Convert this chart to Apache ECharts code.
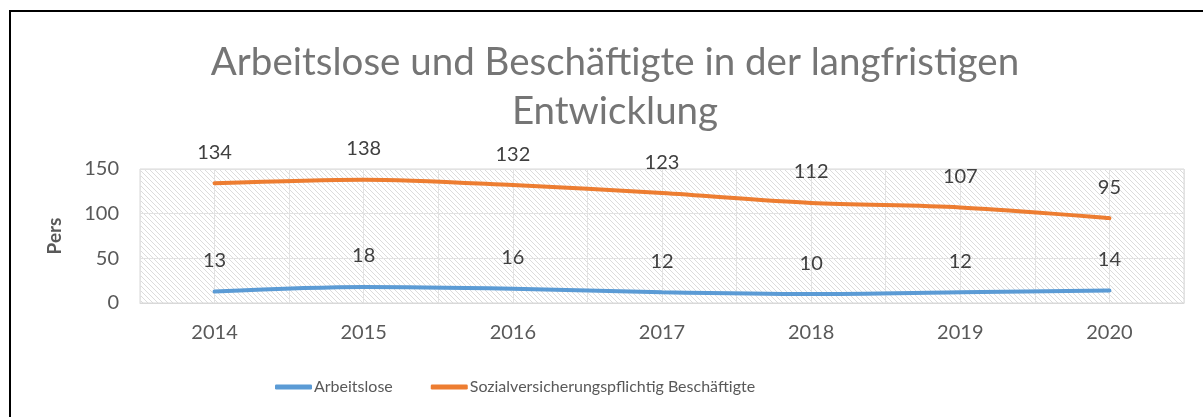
<!DOCTYPE html>
<html>
<head>
<meta charset="utf-8">
<script src="https://cdn.jsdelivr.net/npm/echarts@6/dist/echarts.min.js"></script>
<style>
  html, body { margin: 0; padding: 0; background: #fff; }
  #chart { width: 1203px; height: 417px; }
</style>
</head>
<body>
<div id="chart"></div>
<script>
  // Jahre und Werte
  const jahre = ["2014", "2015", "2016", "2017", "2018", "2019", "2020"];
  const arbeitslose = [13, 18, 16, 12, 10, 12, 14];
  const beschaeftigte = [134, 138, 132, 123, 112, 107, 95];
  const yTicks = [0, 50, 100, 150];

  const FONT = "Lato";
  const BLAU = "#5b9bd5";
  const ORANGE = "#ed7d31";

  // Schraffur fuer den Plotbereich
  function schraffur() {
    const c = document.createElement("canvas");
    c.width = 5;
    c.height = 5;
    const ctx = c.getContext("2d");
    ctx.fillStyle = "#ffffff";
    ctx.fillRect(0, 0, 5, 5);
    ctx.strokeStyle = "#dcdcdc";
    ctx.lineWidth = 1;
    ctx.beginPath();
    ctx.moveTo(-1, -1); ctx.lineTo(6, 6);
    ctx.moveTo(-1, 4); ctx.lineTo(1, 6);
    ctx.moveTo(4, -1); ctx.lineTo(6, 1);
    ctx.stroke();
    return c;
  }

  const myChart = echarts.init(document.getElementById("chart"));

  const options = {
    animation: false,
    textStyle: { fontFamily: FONT },
    graphic: [
      {
        type: "rect",
        shape: { x: 10, y: 11, width: 1400, height: 600 },
        style: { fill: "none", stroke: "#000", lineWidth: 2 },
        silent: true,
        z: -10,
      },
    ],
    title: {
      text: "Arbeitslose und Beschäftigte in der langfristigen\nEntwicklung",
      left: 610,
      top: 33,
      textAlign: "center",
      textStyle: {
        fontFamily: FONT,
        fontSize: 38.5,
        fontWeight: "normal",
        color: "#757575",
        lineHeight: 49,
      },
    },
    legend: {
      left: 270,
      top: 374,
      itemWidth: 37,
      itemHeight: 5,
      itemGap: 38,
      icon: "roundRect",
      textStyle: { fontSize: 16, color: "#595959", fontFamily: FONT, padding: [0, 0, 0, -3] },
      data: ["Arbeitslose", "Sozialversicherungspflichtig Beschäftigte"],
    },
    grid: {
      left: 140,
      right: 19,
      top: 169,
      bottom: 114,
      show: true,
      borderColor: "#d9d9d9",
      borderWidth: 1,
      backgroundColor: { image: schraffur(), repeat: "repeat" },
    },
    xAxis: [
      {
        type: "category",
        data: jahre,
        boundaryGap: true,
        axisLine: { lineStyle: { color: "#d9d9d9" } },
        axisTick: { show: false },
        splitLine: { show: false },
        axisLabel: { fontSize: 20, color: "#595959", margin: 20 },
      },
      {
        // nur fuer die senkrechten Gitterlinien (Mitte und Grenze jeder Kategorie)
        type: "value",
        min: 0,
        max: jahre.length * 2,
        interval: 1,
        position: "bottom",
        axisLine: { show: false },
        axisTick: { show: false },
        axisLabel: { show: false },
        splitLine: { show: true, lineStyle: { color: "#e2e2e2", width: 1 } },
      },
    ],
    yAxis: {
      type: "value",
      min: yTicks[0],
      max: yTicks[yTicks.length - 1],
      interval: 50,
      name: "Pers",
      nameLocation: "middle",
      nameGap: 76,
      nameTextStyle: { fontSize: 19, fontWeight: "bold", color: "#595959" },
      axisLine: { show: false },
      axisTick: { show: false },
      axisLabel: { fontSize: 20, color: "#595959", margin: 21 },
      splitLine: { lineStyle: { color: "#e2e2e2" } },
    },
    series: [
      {
        type: "line",
        name: "Arbeitslose",
        data: arbeitslose,
        smooth: 0.3,
        symbol: "circle",
        symbolSize: 0,
        color: BLAU,
        lineStyle: { width: 4, color: BLAU, cap: "round" },
        label: { show: true, position: "top", distance: 21, fontSize: 20, color: "#404040" },
        z: 5,
      },
      {
        type: "line",
        name: "Sozialversicherungspflichtig Beschäftigte",
        data: beschaeftigte,
        smooth: 0.3,
        symbol: "circle",
        symbolSize: 0,
        color: ORANGE,
        lineStyle: { width: 4, color: ORANGE, cap: "round" },
        label: { show: true, position: "top", distance: 21, fontSize: 20, color: "#404040" },
        z: 5,
      },
    ],
  };

  myChart.setOption(options);
</script>
</body>
</html>
